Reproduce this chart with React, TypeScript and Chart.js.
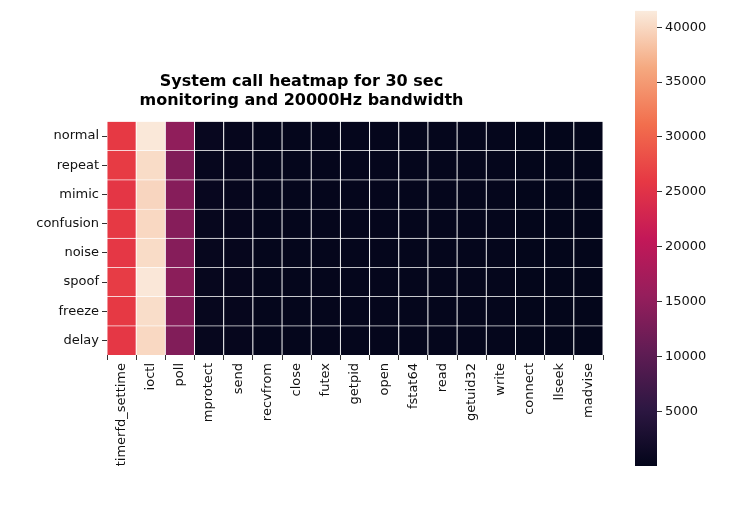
import React, { useRef, useEffect } from 'react';
import { Chart, registerables } from 'chart.js';

Chart.register(...registerables);

const CALLS = ['timerfd_settime', 'ioctl', 'poll', 'mprotect', 'send', 'recvfrom', 'close', 'futex', 'getpid', 'open', 'fstat64', 'read', 'getuid32', 'write', 'connect', 'llseek', 'madvise'];
const ROWS = ['normal', 'repeat', 'mimic', 'confusion', 'noise', 'spoof', 'freeze', 'delay'];

// one array per row, same order as CALLS
const NORMAL = [26000, 41300, 15000, 600, 350, 300, 250, 250, 200, 200, 200, 200, 200, 200, 150, 150, 150];
const REPEAT = [26200, 40300, 13500, 550, 350, 300, 250, 250, 200, 200, 200, 200, 200, 200, 150, 150, 150];
const MIMIC = [25600, 39800, 14000, 600, 350, 300, 250, 250, 200, 200, 200, 200, 200, 200, 150, 150, 150];
const CONFUSION = [26000, 40000, 14000, 550, 350, 300, 250, 250, 200, 200, 200, 200, 200, 200, 150, 150, 150];
const NOISE = [25800, 40300, 14000, 550, 350, 300, 250, 250, 200, 200, 200, 200, 200, 200, 150, 150, 150];
const SPOOF = [26300, 41200, 14500, 550, 350, 300, 250, 250, 200, 200, 200, 200, 200, 200, 150, 150, 150];
const FREEZE = [26000, 40400, 14000, 550, 350, 300, 250, 250, 200, 200, 200, 200, 200, 200, 150, 150, 150];
const DELAY = [25800, 40000, 13500, 550, 350, 300, 250, 250, 200, 200, 200, 200, 200, 200, 150, 150, 150];
const VALUES = [NORMAL, REPEAT, MIMIC, CONFUSION, NOISE, SPOOF, FREEZE, DELAY];

const VMIN = 0;
const VMAX = 41500;
const CBAR_TICKS = [5000, 10000, 15000, 20000, 25000, 30000, 35000, 40000];

const ROCKET: [number, number[]][] = [
  [0, [3, 5, 26]], [0.125, [45, 23, 66]], [0.25, [96, 28, 84]], [0.375, [150, 30, 92]],
  [0.5, [195, 24, 88]], [0.625, [230, 56, 68]], [0.75, [242, 110, 77]],
  [0.875, [245, 169, 128]], [1, [250, 235, 221]],
];

function rocket(t: number) {
  t = Math.max(0, Math.min(1, t));
  for (let i = 1; i < ROCKET.length; i++) {
    const [t1, c1] = ROCKET[i];
    const [t0, c0] = ROCKET[i - 1];
    if (t <= t1) {
      const f = (t - t0) / (t1 - t0);
      const c = c0.map((v, k) => Math.round(v + (c1[k] - v) * f));
      return `rgb(${c[0]},${c[1]},${c[2]})`;
    }
  }
  return 'rgb(250,235,221)';
}

const FONT = 'DejaVu Sans';

export default function App() {
  const heatRef = useRef<HTMLCanvasElement>(null);
  const barRef = useRef<HTMLCanvasElement>(null);

  useEffect(() => {
    if (!heatRef.current || !barRef.current) return;
    Chart.defaults.font.family = FONT;
    Chart.defaults.color = '#111';

    // bottom row first, since bars stack upward
    const datasets = [...ROWS].reverse().map((row, ri) => {
      const vals = VALUES[ROWS.length - 1 - ri];
      return {
        label: row,
        data: vals.map(() => 1),
        backgroundColor: vals.map(v => rocket((v - VMIN) / (VMAX - VMIN))),
        borderColor: '#ffffff',
        borderWidth: 0.8,
        barPercentage: 1,
        categoryPercentage: 1,
      };
    });

    const heat = new Chart(heatRef.current, {
      type: 'bar',
      data: { labels: CALLS, datasets },
      options: {
        animation: false,
        responsive: false,
        layout: { padding: { left: 0, right: 129, top: 18, bottom: 0 } },
        plugins: {
          legend: { display: false },
          tooltip: { enabled: false },
          title: {
            display: true,
            text: ['System call heatmap for 30 sec', 'monitoring and 20000Hz bandwidth'],
            font: { size: 16, weight: 'bold', family: FONT },
            color: '#000',
            padding: { top: 54, bottom: 11 },
            lineHeight: 1.25,
          },
        },
        scales: {
          x: {
            stacked: true,
            grid: { display: true, drawOnChartArea: false, tickLength: 5, color: '#333' },
            border: { display: false },
            ticks: { minRotation: 90, maxRotation: 90, font: { size: 13 }, color: '#111', autoSkip: false },
            afterFit: (s: any) => { s.height = 162; },
          },
          y: {
            stacked: true,
            min: 0,
            max: ROWS.length,
            grid: { display: true, drawOnChartArea: false, tickLength: 5, color: '#333' },
            border: { display: false },
            afterBuildTicks: (axis: any) => {
              axis.ticks = ROWS.map((_, i) => ({ value: i + 0.5 }));
            },
            ticks: {
              font: { size: 13 },
              color: '#111',
              callback: (v: any) => ROWS[ROWS.length - 1 - Math.floor(Number(v))],
            },
            afterFit: (s: any) => { s.width = 107; },
          },
        },
      },
    });

    const cbar = new Chart(barRef.current, {
      type: 'bar',
      data: {
        labels: [''],
        datasets: [{
          data: [[VMIN, VMAX]] as any,
          barPercentage: 1,
          categoryPercentage: 1,
          backgroundColor: (ctx: any) => {
            const area = ctx.chart.chartArea;
            if (!area) return '#000';
            const g = ctx.chart.ctx.createLinearGradient(0, area.bottom, 0, area.top);
            ROCKET.forEach(([t]) => g.addColorStop(t, rocket(t)));
            return g;
          },
        }],
      },
      options: {
        animation: false,
        responsive: false,
        layout: { padding: { left: 15, right: 0, top: 8, bottom: 51 } },
        plugins: { legend: { display: false }, tooltip: { enabled: false } },
        scales: {
          x: { display: false },
          y: {
            position: 'right',
            min: VMIN,
            max: VMAX,
            grid: { display: true, drawOnChartArea: false, tickLength: 5, color: '#333' },
            border: { display: false },
            afterBuildTicks: (axis: any) => {
              axis.ticks = CBAR_TICKS.map(v => ({ value: v }));
            },
            ticks: { font: { size: 13 }, color: '#111', callback: (v: any) => String(v) },
            afterFit: (s: any) => { s.width = 75; },
          },
        },
      },
    });

    return () => {
      heat.destroy();
      cbar.destroy();
    };
  }, []);

  return (
    <div style={{ position: 'absolute', left: 0, top: 0, width: 732, height: 517, background: '#fff' }}>
      <canvas ref={heatRef} width={732} height={517} style={{ position: 'absolute', left: 0, top: 0 }} />
      <canvas ref={barRef} width={112} height={517} style={{ position: 'absolute', left: 620, top: 0 }} />
    </div>
  );
}
